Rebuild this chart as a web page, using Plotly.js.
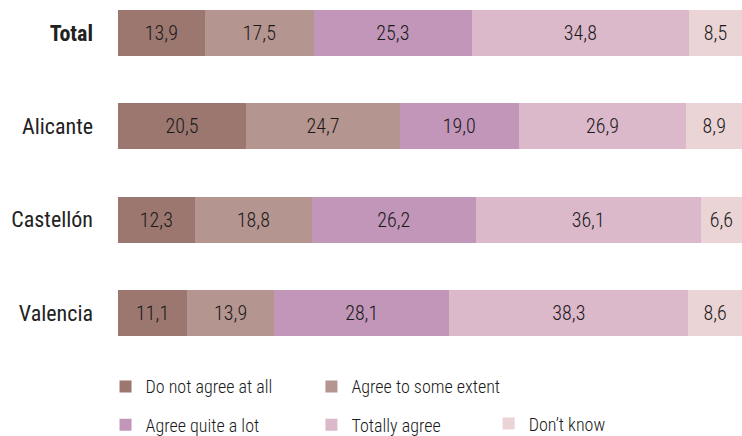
<!DOCTYPE html>
<html>
<head>
<meta charset="utf-8">
<script src="https://cdn.plot.ly/plotly-3.0.1.min.js"></script>
<style>html,body{margin:0;padding:0;background:#fff;}#chart{width:742px;height:436px;}</style>
</head>
<body>
<div id="chart"></div>
<script>
const categories = ["Total", "Alicante", "Castellón", "Valencia"];
const tickLabels = ["<b>Total</b>", "Alicante", "Castellón", "Valencia"];
const seriesNames = ["Do not agree at all", "Agree to some extent", "Agree quite a lot", "Totally agree", "Don’t know"];
const doNotAgree = [13.9, 20.5, 12.3, 11.1];
const agreeSome = [17.5, 24.7, 18.8, 13.9];
const agreeLot = [25.3, 19.0, 26.2, 28.1];
const totallyAgree = [34.8, 26.9, 36.1, 38.3];
const dontKnow = [8.5, 8.9, 6.6, 8.6];
const seriesValues = [doNotAgree, agreeSome, agreeLot, totallyAgree, dontKnow];
const colors = ["#9b7770", "#b5958f", "#c196b8", "#dcb8cb", "#ead4d5"];
const legendOf = ["legend", "legend2", "legend", "legend2", "legend3"];

const FONT = "'Roboto Condensed', 'Liberation Sans Narrow', Roboto, sans-serif";

const traces = seriesValues.map((vals, i) => ({
  type: "bar",
  orientation: "h",
  name: seriesNames[i],
  x: vals,
  y: categories,
  marker: {color: colors[i], line: {width: 0}},
  text: vals.map(v => v.toFixed(1).replace(".", ",")),
  textposition: "inside",
  insidetextanchor: "middle",
  constraintext: "none",
  textfont: {family: FONT, size: 20, weight: 300, color: "#1a1a1a"},
  hoverinfo: "skip",
  legend: legendOf[i],
  legendgroup: "g" + i
}));

const legendBase = {
  orientation: "v",
  bgcolor: "rgba(0,0,0,0)",
  font: {family: FONT, size: 18, weight: 300, color: "#1a1a1a"},
  tracegroupgap: 12,
  yanchor: "top",
  xanchor: "left"
};

const layout = {
  width: 742, height: 436,
  margin: {l: 118, r: 0, t: 0, b: 86, autoexpand: false},
  paper_bgcolor: "#fff", plot_bgcolor: "#fff",
  barmode: "stack",
  bargap: 0.51,
  font: {family: FONT, size: 19, color: "#222"},
  xaxis: {range: [0, 100], visible: false, fixedrange: true},
  yaxis: {
    type: "category",
    range: [3.396, -0.353],
    tickvals: categories, ticktext: tickLabels,
    ticks: "", showline: false, showgrid: false, zeroline: false,
    ticklabelstandoff: 24,
    tickfont: {family: FONT, size: 22, weight: 400, color: "#222"}
  },
  showlegend: true,
  legend: Object.assign({}, legendBase, {x: -0.02, y: -0.052}),
  legend2: Object.assign({}, legendBase, {x: 0.31, y: -0.052}),
  legend3: Object.assign({}, legendBase, {x: 0.594, y: -0.158})
};

Plotly.newPlot("chart", traces, layout, {displayModeBar: false, staticPlot: true});
</script>
</body>
</html>
